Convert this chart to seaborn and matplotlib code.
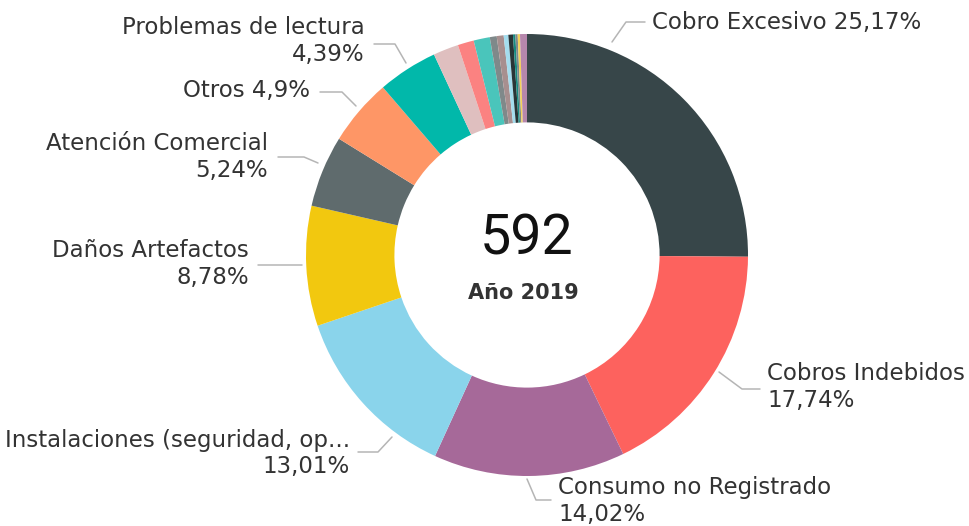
"""Donut chart of complaint types, Año 2019."""

import matplotlib

matplotlib.use("Agg")
import matplotlib.pyplot as plt
import seaborn as sns

# complaint counts (total 592); the tail is the small unlabeled slices
CATEGORIES = [
    "Cobro Excesivo",
    "Cobros Indebidos",
    "Consumo no Registrado",
    "Instalaciones (seguridad, op...",
    "Daños Artefactos",
    "Atención Comercial",
    "Otros",
    "Problemas de lectura",
    "s9", "s10", "s11", "s12", "s13", "s14", "s15", "s16", "s17", "s18", "s19",
]
COUNTS = [149, 105, 83, 77, 52, 31, 29, 26, 11, 7, 7, 3, 3, 2, 2, 1, 1, 1, 3]
PERCENT_LABELS = ["25,17%", "17,74%", "14,02%", "13,01%", "8,78%", "5,24%", "4,9%", "4,39%"]
CENTER_VALUE = "592"
CENTER_CAPTION = "Año 2019"

COLORS = [
    "#374649", "#FD625E", "#A66999", "#8AD4EB", "#F2C80F", "#5F6B6D",
    "#FE9666", "#01B8AA", "#DFBFBF", "#FB8281", "#4AC5BB", "#7F898A",
    "#A78F8F", "#A4DDEE", "#293537", "#168980", "#7F898A", "#F4D25A",
    "#B687AC",
]

# label layout in pixel coords (y down): text anchor, alignment, leader polyline
LABEL_LAYOUT = [
    ((652, 22), "left", True, [(612, 42), (626, 22), (645, 22)]),
    ((767, 373), "left", False, [(719, 372), (742, 389), (760, 389)]),
    ((558, 488), "left", False, [(527, 479), (536, 500), (551, 500)]),
    ((350, 440), "right", False, [(392, 437), (378, 452), (358, 452)]),
    ((249, 250), "right", False, [(302, 265), (258, 265)]),
    ((268, 143), "right", False, [(318, 163), (304, 157), (278, 157)]),
    ((310, 90), "right", True, [(356, 106), (342, 92), (320, 92)]),
    ((365, 27), "right", False, [(406, 63), (395, 44), (374, 44)]),
]

W, H = 970, 526
CX, CY, R = 527, 255, 221
LINE_GAP = 27
LABEL_FONT = ["DejaVu Sans"]


def main():
    sns.set_theme(style="white")
    plt.rcParams["font.family"] = LABEL_FONT
    fig = plt.figure(figsize=(W / 100, H / 100), dpi=100)
    ax = fig.add_axes([0, 0, 1, 1])
    ax.pie(
        COUNTS,
        colors=COLORS,
        startangle=90,
        counterclock=False,
        center=(CX, H - CY),
        radius=R,
        wedgeprops={"width": R * 0.4, "linewidth": 0},
        frame=False,
    )
    ax.set_xlim(0, W)
    ax.set_ylim(0, H)
    ax.set_aspect("equal")
    ax.axis("off")

    text_color = "#333333"
    for name, pct, (pos, ha, one_line, leader) in zip(CATEGORIES, PERCENT_LABELS, LABEL_LAYOUT):
        xs = [p[0] for p in leader]
        ys = [H - p[1] for p in leader]
        ax.plot(xs, ys, color="#B5B5B5", linewidth=1.1, solid_capstyle="round")
        if one_line:
            ax.text(pos[0], H - pos[1], f"{name} {pct}", ha=ha, va="center",
                    fontsize=16.5, color=text_color)
        else:
            ax.text(pos[0], H - pos[1], name, ha=ha, va="center",
                    fontsize=16.5, color=text_color)
            ax.text(pos[0], H - pos[1] - LINE_GAP, pct, ha=ha, va="center",
                    fontsize=16.5, color=text_color)

    ax.text(CX, H - 239, CENTER_VALUE, ha="center", va="center",
            fontsize=40, color="#111111", family=["Roboto", "DejaVu Sans"])
    ax.text(CX - 4, H - 293, CENTER_CAPTION, ha="center", va="center",
            fontsize=15, fontweight="bold", color="#333333")

    fig.savefig("out.png", dpi=100, facecolor="white")
    plt.close(fig)


if __name__ == "__main__":
    main()
